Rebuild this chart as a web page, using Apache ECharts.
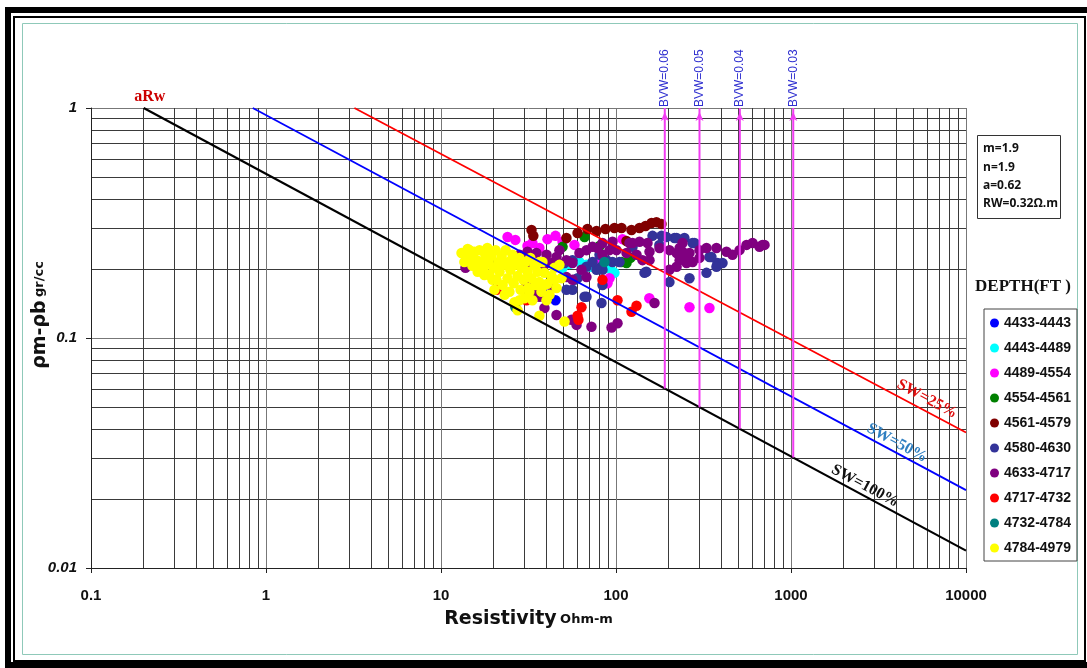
<!DOCTYPE html>
<html>
<head>
<meta charset="utf-8">
<script src="https://cdn.jsdelivr.net/npm/echarts@6/dist/echarts.min.js"></script>
<style>
html,body{margin:0;padding:0;background:#fff;}
#chart{width:1087px;height:668px;}
</style>
</head>
<body>
<div id="chart"></div>
<script>
// legend: depth intervals and their colours
var depthNames = ["4433-4443","4443-4489","4489-4554","4554-4561","4561-4579",
	"4580-4630","4633-4717","4717-4732","4732-4784","4784-4979"];
var depthColors = ["#0000ff","#00ffff","#ff00ff","#008000","#800000",
	"#333399","#800080","#ff0000","#008080","#ffff00"];

// points: [resistivity ohm-m, rho_ma - rho_b gr/cc]
var d4433 = [[38.0,0.165],[45.1,0.146],[35.1,0.159]];
var d4443 = [[49.5,0.202],[54.2,0.210],[61.8,0.214],[67.8,0.208],[72.4,0.204],[78.4,0.208],
	[85.9,0.204],[93.0,0.199],[98,0.192]];
var d4489 = [[24.0,0.275],[26.6,0.267],[33.3,0.259],[36.5,0.246],[40.6,0.269],[45.1,0.278],
	[49.5,0.262],[57.9,0.254],[77.4,0.214],[91.8,0.182],[89.4,0.173],[108.9,0.269],
	[155,0.149],[263,0.136],[342,0.135],[31.2,0.251]];
var d4554 = [[49.5,0.249],[66.1,0.275],[80.5,0.251],[107.5,0.214],[114.8,0.212],[121,0.223]];
var d4561 = [[32.9,0.295],[33.7,0.278],[52.1,0.272],[60.3,0.286],[68.7,0.298],[77.4,0.292],
	[98,0.301],[107.5,0.301],[114.8,0.264],[122.6,0.295],[136.2,0.301],[147.5,0.307],
	[159.6,0.316],[170.3,0.319],[182,0.313],[87.1,0.298]];
var d4580 = [[161.7,0.278],[182,0.278],[216,0.272],[246,0.272],[281,0.259],[342,0.225],
	[380,0.212],[406,0.212],[375,0.204],[329,0.192],[263,0.182],[202,0.175],[145.5,0.192],
	[124.3,0.249],[95.5,0.214],[104.7,0.214],[88.2,0.218],[82.6,0.204],[83.7,0.198],
	[82.6,0.142],[80.5,0.230],[77.4,0.198],[67.8,0.204],[57.9,0.179],[56.4,0.162],
	[67.8,0.151],[56.4,0.218],[50.8,0.212],[194,0.275],[222,0.272],[274,0.259],[149,0.194],
	[60.3,0.182],[52.1,0.162],[66.1,0.151],[83.7,0.170],[73.4,0.214],[351,0.225],[177,0.254]];
var d4633 = [[13.8,0.202],[28.1,0.230],[31.2,0.237],[35.1,0.234],[40.1,0.230],[45.7,0.225],
	[42.8,0.212],[52.1,0.218],[56.4,0.212],[61.8,0.234],[67.8,0.241],[73.4,0.249],
	[83.7,0.259],[95.5,0.262],[100.7,0.241],[119.4,0.259],[136.2,0.262],[155.4,0.237],
	[114.8,0.234],[83.7,0.230],[67.8,0.184],[56.4,0.179],[63.5,0.198],[52.1,0.184],
	[43.4,0.167],[36.5,0.151],[39.0,0.135],[45.7,0.126],[55.7,0.120],[59.5,0.114],
	[72.4,0.112],[94.3,0.111],[102,0.116],[166,0.142],[202,0.198],[263,0.234],[231,0.246],
	[253,0.225],[274,0.214],[300,0.223],[240,0.259],[300,0.241],[375,0.246],[428,0.237],
	[463,0.230],[557,0.254],[603,0.259],[661,0.249],[706,0.254],[508,0.241],[222,0.204],
	[30.8,0.170],[34.2,0.154],[91.8,0.241],[124.3,0.259],[151.4,0.259],[155.4,0.218],
	[141.7,0.218],[131,0.230],[177.3,0.246],[202,0.241],[222,0.234],[240,0.237],[231,0.218],
	[253,0.212],[329,0.246],[687,0.254],[32.0,0.214],[39.0,0.208],[47.5,0.241],[78.4,0.246]];
var d4717 = [[83.7,0.179],[102,0.146],[131,0.138],[122.6,0.130],[63.5,0.136],[60.3,0.125],
	[61,0.120],[30.8,0.146],[20.75,0.162]];
var d4732 = [[26.6,0.136],[85.9,0.214]];
var d4784 = [[13.1,0.234],[13.6,0.214],[14.2,0.244],[14.55,0.223],[15.1,0.206],[15.5,0.237],
	[16.0,0.218],[16.2,0.194],[16.6,0.241],[17.0,0.214],[17.5,0.202],[17.9,0.230],[18.4,0.246],
	[18.7,0.214],[18.9,0.188],[19.4,0.227],[19.9,0.202],[20.5,0.241],[20.75,0.179],[21.3,0.214],
	[21.6,0.194],[22.2,0.227],[22.5,0.170],[23.1,0.208],[23.4,0.241],[24.0,0.182],[24.3,0.214],
	[24.6,0.159],[24.9,0.198],[25.6,0.230],[26.0,0.173],[26.3,0.143],[26.6,0.208],[27.4,0.186],
	[27.4,0.132],[28.1,0.223],[28.5,0.162],[28.8,0.202],[29.6,0.179],[30.0,0.149],[30.4,0.214],
	[31.2,0.194],[31.6,0.165],[32.4,0.223],[32.9,0.182],[33.3,0.146],[34.2,0.206],[34.7,0.170],
	[35.6,0.194],[36.5,0.175],[36.5,0.125],[37.5,0.159],[38.0,0.214],[39.0,0.192],[40.1,0.146],
	[40.6,0.172],[41.7,0.154],[42.8,0.186],[44.5,0.202],[45.7,0.165],[48.8,0.182],[50.8,0.118],
	[14.55,0.241],[17.7,0.188],[20.2,0.162],[23.1,0.154],[28.1,0.146],[32.0,0.159],[25.3,0.214],
	[19.7,0.179],[16.2,0.214],[39.0,0.170],[44.5,0.179],[36.5,0.214],[47.5,0.208]];
var depthData = [d4433,d4443,d4489,d4554,d4561,d4580,d4633,d4717,d4732,d4784];

// saturation lines (start at aRw / shifted, end at right edge)
var sw100 = [[0.2,1],[10000,0.0119]];
var sw50 = [[0.84,1],[10000,0.0218]];
var sw25 = [[3.2,1],[10000,0.0388]];

// bulk volume water verticals: resistivity, bottom (on SW=100%)
var bvwX = [190,300,510,1030];
var bvwBottom = [0.0603,0.0500,0.0403,0.0302];
var bvwNames = ["BVW=0.06","BVW=0.05","BVW=0.04","BVW=0.03"];

var myChart = echarts.init(document.getElementById("chart"));

function fmt(v){
	return String(parseFloat(Number(v).toPrecision(6)));
}

var series = [];
depthNames.forEach(function(name,i){
	series.push({
		name:name,
		type:"scatter",
		data:depthData[i],
		symbol:"circle",
		symbolSize:10.5,
		itemStyle:{color:depthColors[i],opacity:1},
		silent:true
	});
});
[[sw100,"#000000",2.2],[sw50,"#0000ff",1.8],[sw25,"#ff0000",1.8]].forEach(function(l){
	series.push({
		type:"line",
		data:l[0],
		symbol:"none",
		lineStyle:{color:l[1],width:l[2]},
		silent:true,
		z:4
	});
});
bvwX.forEach(function(x,i){
	series.push({
		type:"line",
		data:[
			{value:[x,bvwBottom[i]],symbol:"none"},
			{value:[x,1],symbol:"arrow",symbolSize:[6,9],symbolOffset:[0,4]}
		],
		lineStyle:{color:"#f23cf2",width:2},
		itemStyle:{color:"#f23cf2"},
		silent:true,
		z:4
	});
});

var option = {
	animation:false,
	backgroundColor:"#ffffff",
	grid:{left:91,top:108,width:875,height:460},
	xAxis:{
		type:"log",
		logBase:10,
		min:0.1,
		max:10000,
		name:"{a|Resistivity} {b|Ohm-m}",
		nameLocation:"middle",
		nameGap:42,
		nameTextStyle:{
			rich:{
				a:{fontFamily:"DejaVu Sans",fontWeight:"bold",fontSize:19,color:"#111"},
				b:{fontFamily:"DejaVu Sans",fontWeight:"bold",fontSize:13,color:"#111"}
			}
		},
		axisLine:{show:true,lineStyle:{color:"#222",width:1}},
		axisTick:{show:true,length:5,lineStyle:{color:"#222"}},
		axisLabel:{
			formatter:fmt,
			margin:20,
			fontFamily:"Liberation Sans",
			fontWeight:"bold",
			fontSize:15,
			color:"#111"
		},
		splitLine:{show:true,lineStyle:{color:"#777",width:1}},
		minorTick:{show:false,splitNumber:9},
		minorSplitLine:{show:true,lineStyle:{color:"#3a3a3a",width:1}}
	},
	yAxis:{
		type:"log",
		logBase:10,
		min:0.01,
		max:1,
		axisLine:{show:true,lineStyle:{color:"#222",width:1}},
		axisTick:{show:true,length:5,lineStyle:{color:"#222"}},
		axisLabel:{
			formatter:fmt,
			margin:14,
			fontFamily:"Liberation Sans",
			fontWeight:"bold",
			fontStyle:"italic",
			fontSize:15,
			color:"#111"
		},
		splitLine:{show:true,lineStyle:{color:"#777",width:1}},
		minorTick:{show:false,splitNumber:9},
		minorSplitLine:{show:true,lineStyle:{color:"#3a3a3a",width:1}}
	},
	legend:{
		data:depthNames,
		orient:"vertical",
		left:984,
		top:309,
		icon:"circle",
		itemWidth:9,
		itemHeight:9,
		itemGap:11,
		padding:[7,6,6,6],
		borderColor:"#444",
		borderWidth:1,
		selectedMode:false,
		textStyle:{fontFamily:"Liberation Sans",fontWeight:"bold",fontSize:14,color:"#111"}
	},
	series:series
};
myChart.setOption(option);

// annotations
var serif = "bold 16px 'Liberation Serif', 'DejaVu Serif', serif";
var graphics = [
	{type:"rect",silent:true,shape:{x:8,y:10,width:1090,height:655},style:{fill:"none",stroke:"#000",lineWidth:6}},
	{type:"rect",silent:true,shape:{x:14,y:17,width:1071,height:644},style:{fill:"none",stroke:"#000",lineWidth:2}},
	{type:"rect",silent:true,shape:{x:22.5,y:23.5,width:1055,height:631},style:{fill:"none",stroke:"#8fc9b9",lineWidth:1}},
	{type:"text",silent:true,x:40,y:315,rotation:Math.PI/2,
		style:{text:"{a|ρm-ρb} {b|gr/cc}",align:"center",verticalAlign:"middle",
			rich:{
				a:{fontFamily:"DejaVu Sans",fontWeight:"bold",fontSize:19,fill:"#111"},
				b:{fontFamily:"DejaVu Sans",fontWeight:"bold",fontSize:13,fill:"#111"}
			}}},
	{type:"text",silent:true,x:927,y:399,rotation:-0.49,
		style:{text:"SW=25%",font:serif,fill:"#e01010",align:"center",verticalAlign:"middle"}},
	{type:"text",silent:true,x:897,y:443,rotation:-0.49,
		style:{text:"SW=50%",font:serif,fill:"#2f7fc1",align:"center",verticalAlign:"middle"}},
	{type:"text",silent:true,x:865,y:486,rotation:-0.49,
		style:{text:"SW=100%",font:serif,fill:"#111",align:"center",verticalAlign:"middle"}},
	{type:"rect",silent:true,shape:{x:977.5,y:135.5,width:83,height:83},style:{fill:"#fff",stroke:"#333",lineWidth:1}},
	{type:"text",silent:true,x:1023,y:287,
		style:{text:"DEPTH(FT )",font:"bold 17px 'Liberation Serif', 'DejaVu Serif', serif",fill:"#111",align:"center",verticalAlign:"middle"}}
];
["m=1.9","n=1.9","a=0.62","RW=0.32Ω.m"].forEach(function(t,i){
	graphics.push({type:"text",silent:true,x:983,y:149+i*18.3,
		style:{text:t,font:"bold 12px 'Open Sans', sans-serif",fill:"#111",align:"left",verticalAlign:"middle"}});
});
var aPix = myChart.convertToPixel({gridIndex:0},sw100[0]);
graphics.push({type:"text",silent:true,x:aPix[0]+6,y:aPix[1]-11,
	style:{text:"aRw",font:serif,fill:"#cc0000",align:"center",verticalAlign:"middle"}});
bvwX.forEach(function(x,i){
	var p = myChart.convertToPixel({gridIndex:0},[x,1]);
	graphics.push({type:"text",silent:true,x:p[0],y:p[1]-1,rotation:Math.PI/2,
		style:{text:bvwNames[i],font:"12px 'Liberation Sans', sans-serif",fill:"#3030d0",align:"left",verticalAlign:"middle"}});
});
myChart.setOption({graphic:graphics});
</script>
</body>
</html>
